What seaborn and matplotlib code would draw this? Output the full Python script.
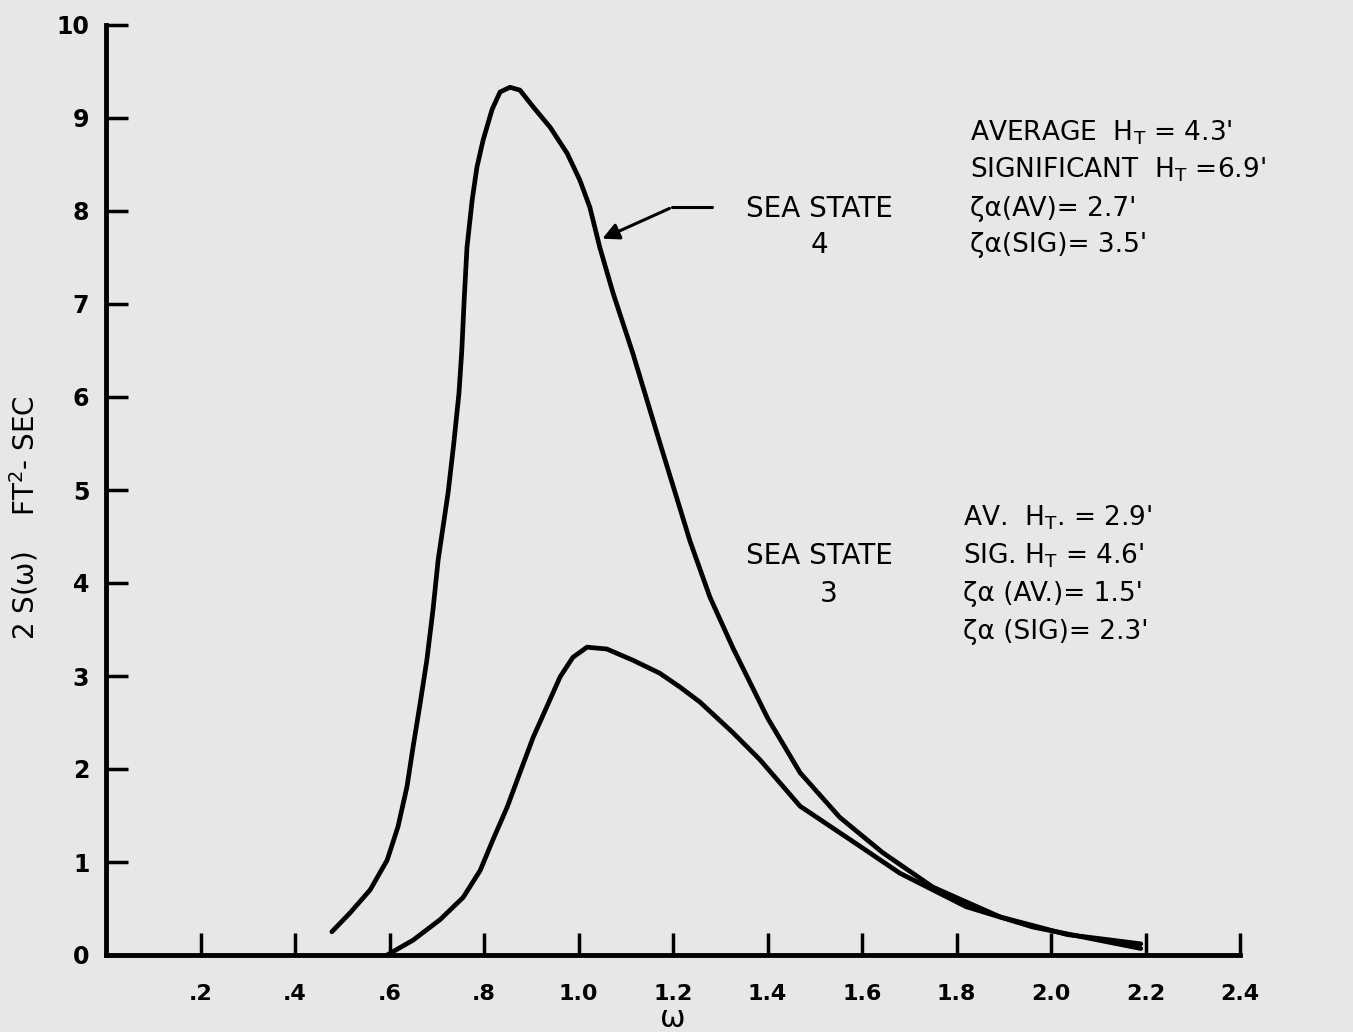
import pandas as pd
import seaborn as sns
import matplotlib.pyplot as plt

# sea state 4 curve
ss4_w = [0.478, 0.516, 0.559, 0.595, 0.618, 0.637, 0.650, 0.665, 0.679, 0.692, 0.703,
         0.724, 0.736, 0.747, 0.753, 0.758, 0.764, 0.775, 0.785, 0.798, 0.817, 0.834,
         0.855, 0.876, 0.904, 0.940, 0.976, 1.003, 1.024, 1.045, 1.073, 1.115, 1.172,
         1.236, 1.278, 1.327, 1.400, 1.469, 1.553, 1.644, 1.750, 1.892, 2.034, 2.190]
ss4_s = [0.25, 0.45, 0.70, 1.02, 1.38, 1.81, 2.24, 2.71, 3.17, 3.71, 4.25,
         4.97, 5.50, 6.04, 6.50, 7.04, 7.61, 8.12, 8.47, 8.76, 9.09, 9.28,
         9.33, 9.30, 9.12, 8.90, 8.62, 8.33, 8.04, 7.61, 7.12, 6.47, 5.51,
         4.45, 3.85, 3.30, 2.55, 1.96, 1.48, 1.10, 0.73, 0.41, 0.22, 0.12]

# sea state 3 curve
ss3_w = [0.595, 0.650, 0.707, 0.756, 0.792, 0.819, 0.849, 0.876, 0.904, 0.933, 0.961,
         0.988, 1.018, 1.060, 1.115, 1.172, 1.215, 1.257, 1.327, 1.384, 1.469, 1.575,
         1.680, 1.820, 1.962, 2.190]
ss3_s = [0.00, 0.16, 0.38, 0.62, 0.91, 1.24, 1.59, 1.96, 2.34, 2.67, 2.99,
         3.20, 3.31, 3.29, 3.17, 3.03, 2.88, 2.72, 2.39, 2.10, 1.60, 1.24,
         0.88, 0.52, 0.30, 0.07]

x_ticks = [0.2, 0.4, 0.6, 0.8, 1.0, 1.2, 1.4, 1.6, 1.8, 2.0, 2.2, 2.4]
x_labels = [".2", ".4", ".6", ".8", "1.0", "1.2", "1.4", "1.6", "1.8", "2.0", "2.2", "2.4"]
y_ticks = list(range(0, 11))
y_labels = [str(v) for v in y_ticks]

ss4_text = [r"AVERAGE  H$_\mathrm{T}$ = 4.3'", r"SIGNIFICANT  H$_\mathrm{T}$ =6.9'",
            "ζα(AV)= 2.7'", "ζα(SIG)= 3.5'"]
ss3_text = [r"AV.  H$_\mathrm{T}$. = 2.9'", r"SIG. H$_\mathrm{T}$ = 4.6'",
            "ζα (AV.)= 1.5'", "ζα (SIG)= 2.3'"]

sns.set_theme(style="ticks")
plt.rcParams['font.family'] = ['DejaVu Sans']
plt.rcParams['text.color'] = 'black'
plt.rcParams['axes.labelcolor'] = 'black'
bg = "#e7e7e7"

fig = plt.figure(figsize=(13.53, 10.32), dpi=100, facecolor=bg)
ax = fig.add_axes([106 / 1353, 77 / 1032, 1134 / 1353, 930 / 1032], facecolor=bg)

df4 = pd.DataFrame({"w": ss4_w, "s": ss4_s})
df3 = pd.DataFrame({"w": ss3_w, "s": ss3_s})
sns.lineplot(data=df4, x="w", y="s", ax=ax, color="black", lw=3.4, sort=False)
sns.lineplot(data=df3, x="w", y="s", ax=ax, color="black", lw=3.4, sort=False)

ax.set_xlim(0, 2.4)
ax.set_ylim(0, 10)
sns.despine(ax=ax)
for sp in ["left", "bottom"]:
    ax.spines[sp].set_linewidth(3.5)
    ax.spines[sp].set_color("black")

ax.set_xticks(x_ticks)
ax.set_xticklabels(x_labels, fontsize=16, fontweight="bold")
ax.set_yticks(y_ticks)
ax.set_yticklabels(y_labels, fontsize=17, fontweight="bold")
ax.tick_params(axis="both", direction="in", length=16, width=2.5, colors="black")
ax.tick_params(axis="x", pad=21)
ax.tick_params(axis="y", pad=12)

ax.set_xlabel("ω", fontsize=22, labelpad=0)
ax.set_ylabel("2 S(ω)    FT$^2$- SEC", fontsize=20)
ax.yaxis.set_label_coords(-0.058, 0.47)

# sea state 4 labels
ax.text(1.51, 8.02, "SEA STATE", fontsize=20, ha="center", va="center")
ax.text(1.51, 7.63, "4", fontsize=20, ha="center", va="center")
ax.plot([1.198, 1.283], [8.04, 8.04], color="black", lw=2.2)
ax.annotate("", xy=(1.045, 7.69), xytext=(1.198, 8.04),
            arrowprops=dict(arrowstyle="-|>", color="black", lw=2.2, mutation_scale=25))
for i, line in enumerate(ss4_text):
    ax.text(1.829, [8.84, 8.44, 8.02, 7.63][i], line, fontsize=19, ha="left", va="center")

# sea state 3 labels
ax.text(1.51, 4.29, "SEA STATE", fontsize=20, ha="center", va="center")
ax.text(1.53, 3.88, "3", fontsize=20, ha="center", va="center")
for i, line in enumerate(ss3_text):
    ax.text(1.814, [4.70, 4.29, 3.88, 3.47][i], line, fontsize=19, ha="left", va="center")

fig.savefig("out.png", dpi=100, facecolor=bg)
